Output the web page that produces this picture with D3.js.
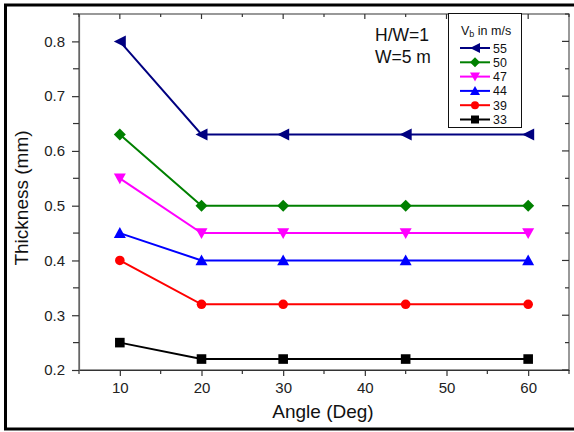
<!DOCTYPE html>
<html>
<head>
<meta charset="utf-8">
<script src="https://cdn.jsdelivr.net/npm/d3@7"></script>
<style>
  html, body { margin: 0; padding: 0; background: #fff; }
  svg { display: block; font-family: Arial, "Liberation Sans", sans-serif; }
</style>
</head>
<body>
<svg id="chart" width="574" height="432"></svg>
<script>
// Coating thickness versus impact angle for several particle velocities
const angles = [10, 20, 30, 45, 60];
const velocities = ["55", "50", "47", "44", "39", "33"];
const thickness55 = [0.80, 0.63, 0.63, 0.63, 0.63];
const thickness50 = [0.63, 0.50, 0.50, 0.50, 0.50];
const thickness47 = [0.55, 0.45, 0.45, 0.45, 0.45];
const thickness44 = [0.45, 0.40, 0.40, 0.40, 0.40];
const thickness39 = [0.40, 0.32, 0.32, 0.32, 0.32];
const thickness33 = [0.25, 0.22, 0.22, 0.22, 0.22];
const xTicks = [10, 20, 30, 40, 50, 60];
const yTicks = [0.2, 0.3, 0.4, 0.5, 0.6, 0.7, 0.8];

const seriesColors = ["#000080", "#008000", "#ff00ff", "#0000ff", "#ff0000", "#000000"];
const seriesShapes = ["left", "diamond", "down", "up", "circle", "square"];
const seriesValues = [thickness55, thickness50, thickness47, thickness44, thickness39, thickness33];

const series = velocities.map((v, i) => ({
  label: v, color: seriesColors[i], shape: seriesShapes[i],
  points: angles.map((a, j) => ({ x: a, y: seriesValues[i][j] }))
}));

const svg = d3.select("#chart");
const plot = { left: 79, top: 14, right: 569, bottom: 370 };

const x = d3.scaleLinear().domain([5, 65]).range([plot.left, plot.right]);
const y = d3.scaleLinear().domain([0.2, 0.85]).range([plot.bottom, plot.top]);

// outer frame
svg.append("rect")
  .attr("x", 5.5).attr("y", 5).attr("width", 600).attr("height", 424)
  .attr("fill", "none").attr("stroke", "#000").attr("stroke-width", 3);

// plot frame
svg.append("rect")
  .attr("x", plot.left).attr("y", plot.top)
  .attr("width", plot.right - plot.left).attr("height", plot.bottom - plot.top)
  .attr("fill", "none").attr("stroke", "#555").attr("stroke-width", 1.2);

const axisColor = "#333";
const minorX = d3.range(5, 66, 5).filter(v => !xTicks.includes(v));
const minorY = d3.range(0.25, 0.851, 0.1).map(v => +v.toFixed(2));

// bottom axis
const xAxis = svg.append("g").attr("transform", `translate(0,${plot.bottom})`)
  .call(d3.axisBottom(x).tickValues(xTicks).tickFormat(d3.format("d")).tickSize(6).tickSizeOuter(0));
xAxis.append("g").selectAll("line").data(minorX).join("line")
  .attr("x1", d => x(d)).attr("x2", d => x(d)).attr("y1", 0).attr("y2", 4);
xAxis.selectAll("line").attr("stroke", axisColor).attr("stroke-width", 1.2);
xAxis.select(".domain").attr("stroke", axisColor).attr("stroke-width", 1.2);
xAxis.selectAll("text").attr("font-size", 15).attr("fill", "#222").attr("dy", "0.95em")
  .attr("font-family", "Arial, 'Liberation Sans', sans-serif");

// left axis
const yAxis = svg.append("g").attr("transform", `translate(${plot.left},0)`)
  .call(d3.axisLeft(y).tickValues(yTicks).tickFormat(d3.format(".1f")).tickSize(7).tickSizeOuter(0));
yAxis.append("g").selectAll("line").data(minorY).join("line")
  .attr("x1", 0).attr("x2", -6).attr("y1", d => y(d)).attr("y2", d => y(d));
yAxis.selectAll("line").attr("stroke", axisColor).attr("stroke-width", 1.2);
yAxis.select(".domain").attr("stroke", "#666").attr("stroke-width", 1.2);
yAxis.selectAll("text").attr("font-size", 15).attr("fill", "#222").attr("x", -14)
  .attr("font-family", "Arial, 'Liberation Sans', sans-serif");

// mirrored ticks on top and right edges
const topTicks = svg.append("g");
topTicks.selectAll("line.maj").data(xTicks).join("line").attr("class", "maj")
  .attr("x1", d => x(d)).attr("x2", d => x(d)).attr("y1", plot.top).attr("y2", plot.top + 5);
topTicks.selectAll("line.min").data(minorX).join("line").attr("class", "min")
  .attr("x1", d => x(d)).attr("x2", d => x(d)).attr("y1", plot.top).attr("y2", plot.top + 3);
const rightTicks = svg.append("g");
rightTicks.selectAll("line.maj").data(yTicks).join("line").attr("class", "maj")
  .attr("x1", plot.right - 7).attr("x2", plot.right).attr("y1", d => y(d)).attr("y2", d => y(d));
rightTicks.selectAll("line.min").data(minorY).join("line").attr("class", "min")
  .attr("x1", plot.right - 4).attr("x2", plot.right).attr("y1", d => y(d)).attr("y2", d => y(d));
topTicks.selectAll("line").attr("stroke", axisColor).attr("stroke-width", 1.2);
rightTicks.selectAll("line").attr("stroke", axisColor).attr("stroke-width", 1.2);

// axis titles
svg.append("text").attr("x", (plot.left + plot.right) / 2 - 1).attr("y", 418)
  .attr("text-anchor", "middle").attr("font-size", 19).attr("fill", "#111")
  .text("Angle (Deg)");
svg.append("text").attr("transform", `translate(28,${(plot.top + plot.bottom) / 2 + 6}) rotate(-90)`)
  .attr("text-anchor", "middle").attr("font-size", 19).attr("fill", "#111")
  .text("Thickness (mm)");

// marker shapes
function markerPath(shape, s) {
  const h = s / 2;
  switch (shape) {
    case "left": return `M${-h},0L${h},${-h}L${h},${h}Z`;
    case "down": return `M${-h},${-h * 0.8}L${h},${-h * 0.8}L0,${h}Z`;
    case "up": return `M${-h},${h * 0.8}L${h},${h * 0.8}L0,${-h}Z`;
    case "diamond": return `M0,${-h}L${h},0L0,${h}L${-h},0Z`;
    case "square": { const q = h * 0.8; return `M${-q},${-q}L${q},${-q}L${q},${q}L${-q},${q}Z`; }
    case "circle": { const r = h * 0.8; return `M${r},0A${r},${r} 0 1,1 ${-r},0A${r},${r} 0 1,1 ${r},0Z`; }
  }
}

const line = d3.line().x(d => x(d.x)).y(d => y(d.y));

const groups = svg.append("g").selectAll("g").data(series.slice().reverse()).join("g");
groups.append("path").attr("d", d => line(d.points))
  .attr("fill", "none").attr("stroke", d => d.color).attr("stroke-width", 2);
groups.each(function (s) {
  d3.select(this).selectAll("path.mk").data(s.points).join("path")
    .attr("class", "mk")
    .attr("transform", p => `translate(${x(p.x)},${y(p.y)})`)
    .attr("d", markerPath(s.shape, 12))
    .attr("fill", s.color);
});

// annotation
svg.append("text").attr("x", 375).attr("y", 41).attr("font-size", 17.5).attr("fill", "#111").text("H/W=1");
svg.append("text").attr("x", 375).attr("y", 63).attr("font-size", 17.5).attr("fill", "#111").text("W=5 m");

// legend
const legend = svg.append("g");
legend.append("rect").attr("x", 448.5).attr("y", 13.5).attr("width", 73).attr("height", 114)
  .attr("fill", "#fff").attr("stroke", "#111").attr("stroke-width", 1);
const lt = legend.append("text").attr("x", 461).attr("y", 35).attr("font-size", 12.5).attr("fill", "#111");
lt.append("tspan").text("V");
lt.append("tspan").attr("font-size", 9).attr("dy", 2).text("b");
lt.append("tspan").attr("dy", -2).text(" in m/s");
const rows = legend.selectAll("g.row").data(series).join("g").attr("class", "row")
  .attr("transform", (d, i) => `translate(0,${48 + i * 14.3})`);
rows.append("line").attr("x1", 460).attr("x2", 490).attr("y1", 0).attr("y2", 0)
  .attr("stroke", d => d.color).attr("stroke-width", 2);
rows.append("path").attr("transform", "translate(475,0)")
  .attr("d", d => markerPath(d.shape, 10)).attr("fill", d => d.color);
rows.append("text").attr("x", 493).attr("y", 4.5).attr("font-size", 12.4).attr("fill", "#111")
  .text(d => d.label);
</script>
</body>
</html>
